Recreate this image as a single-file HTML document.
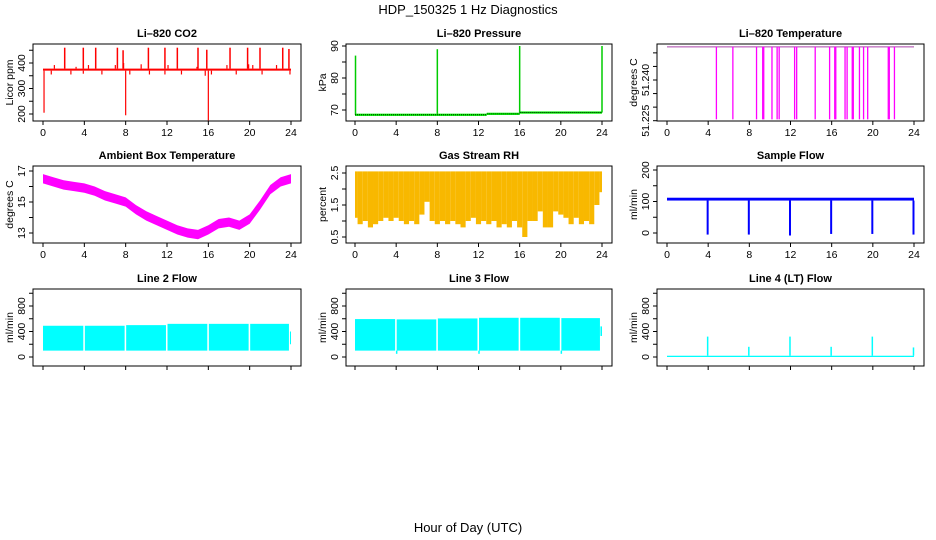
<!DOCTYPE html>
<html><head><meta charset="utf-8"><style>
body{margin:0;background:#fff}
svg{display:block;font-family:"Liberation Sans",Arial,sans-serif}
.t{font-weight:bold;font-size:11px}
.tk{font-size:10.5px}
</style></head><body>
<svg id="c" width="936" height="540" viewBox="0 0 936 540">
<text x="468" y="14" text-anchor="middle" font-size="13">HDP_150325  1 Hz Diagnostics</text>
<text x="468" y="532" text-anchor="middle" font-size="13">Hour of Day (UTC)</text>
</svg>
<script>
const xTicks=[0,4,8,12,16,20,24];
const co2Base=[370,378];
const co2UpT=[2.1,3.9,5.1,7.2,7.75,10.2,11.8,13.0,15.0,15.85,18.1,19.8,21.0,23.2,23.8];
const co2UpV=[460,460,460,460,450,460,460,460,460,452,460,460,460,460,455];
const co2DownT=[0.1,8.0,16.0];
const co2DownV=[205,195,175];
const co2DipT=[0.8,2.7,3.9,5.7,8.4,10.3,11.8,13.4,15.7,16.3,18.7,21.2,23.9];
const co2DipV=[355,355,358,355,355,355,355,355,350,355,355,355,355];
const co2BumpT=[1.1,3.2,4.4,7.0,7.8,9.5,12.1,14.9,17.8,19.9,20.3,22.6];
const co2BumpV=[392,385,392,392,400,395,392,385,392,395,392,392];
const presSegT=[0,12.8,16,24];
const presSegV=[68.5,68.8,69.2];
const presSpikeT=[0.05,8,16,24];
const presSpikeV=[87,89,90,90];
const tempTop=51.2522;
const tempDropT=[4.8,6.4,8.7,9.3,9.4,10.2,10.7,10.9,12.4,12.6,14.4,15.8,16.3,16.4,17.3,17.5,18.0,18.1,18.7,19.1,19.5,21.5,21.6,22.1];
const tempDropV=51.2255;
const ambT=[0,1,2,3,4,5,6,7,8,9,10,11,12,13,14,15,16,17,18,19,20,21,22,23,24];
const ambC=[16.5,16.3,16.1,16.0,15.9,15.7,15.4,15.2,15.0,14.5,14.1,13.8,13.5,13.2,13.0,12.9,13.2,13.6,13.7,13.5,13.9,14.8,15.8,16.3,16.5];
const ambHalf=0.3;
const rhHigh=2.55;
const rhLow=[1.1,0.9,1.0,0.8,0.9,1.0,1.1,1.0,1.1,1.0,0.9,1.0,0.9,1.2,1.6,1.0,0.9,1.0,0.9,1.0,0.9,0.8,1.0,1.1,0.9,1.0,0.9,1.0,0.8,0.9,0.8,1.0,0.8,0.5,1.0,1.0,1.3,0.8,0.8,1.3,1.2,1.1,0.9,1.1,0.9,1.0,0.9,1.5,1.9];
const sfBase=[103,112];
const sfDropT=[4,8,12,16,20,24];
const sfDropV=[-5,-5,-8,-3,-3,-5];
const segStart=[0,4.05,8.05,12.05,16.05,20.05];
const segEnd=[3.9,7.9,11.9,15.9,19.9,23.8];
const l2Top=[490,490,500,520,520,520];
const l2Bot=100;
const l3Top=[595,590,605,615,615,610];
const l3Bot=100;
const l3DipT=[4.05,12.05,20.05];
const l3DipV=50;
const l4Base=[0,20];
const l4T=[4,8,12,16,20,24];
const l4V=[320,160,320,160,320,150];

const svg=document.getElementById('c');
const NS='http://www.w3.org/2000/svg';
function mk(tag,attrs,parent){const e=document.createElementNS(NS,tag);for(const k in attrs)e.setAttribute(k,attrs[k]);(parent||svg).appendChild(e);return e;}
const cols=[{L:33,R:301,x0:43,x24:291},{L:346,R:612,x0:355,x24:602},{L:657,R:924,x0:667,x24:914}];
const rows=[{T:44,B:121},{T:166,B:243},{T:289,B:366}];
function panel(name,title,ylab,c,r,ref,ticks,labels,xlabels){
  const C=cols[c],R=rows[r];
  const g=mk('g',{});
  
  
  const sx=t=>C.x0+(C.x24-C.x0)*t/24;
  const sy=v=>ref[1]+(ref[3]-ref[1])*(v-ref[0])/(ref[2]-ref[0]);
  const tt=mk('text',{x:(C.L+C.R)/2,y:R.T-7,'text-anchor':'middle',class:'t'},g);tt.textContent=title;
  
  
  const yt=mk('text',{transform:`translate(${C.L-20},${(R.T+R.B)/2}) rotate(-90)`,'text-anchor':'middle',class:'tk'},g);yt.textContent=ylab;
  
  
  const ax=mk('g',{stroke:'#000','stroke-width':1},g);
  
  
  mk('line',{x1:C.L,x2:C.L,y1:sy(ticks[0]),y2:sy(ticks[ticks.length-1])},ax);
  ticks.forEach(v=>{mk('line',{x1:C.L-4,x2:C.L,y1:sy(v),y2:sy(v)},ax);});
  labels.forEach(v=>{const s=mk('text',{transform:`translate(${C.L-8},${sy(parseFloat(v))}) rotate(-90)`,'text-anchor':'middle',class:'tk',stroke:'none'},g);s.textContent=v;
    
    });
  mk('line',{x1:sx(0),x2:sx(24),y1:R.B,y2:R.B},ax);
  xTicks.forEach(v=>{mk('line',{x1:sx(v),x2:sx(v),y1:R.B,y2:R.B+4},ax);
    if(xlabels){const s=mk('text',{x:sx(v),y:R.B+15,'text-anchor':'middle',class:'tk',stroke:'none'},g);s.textContent=v;
      
      }});
  const d=mk('g',{},g);
  
  
  const box=mk('rect',{x:C.L,y:R.T,width:C.R-C.L,height:R.B-R.T,fill:'none',stroke:'#000'},g);
  
  
  return {sx,sy,d};
}
function vline(p,t,v1,v2,col,w){mk('line',{x1:p.sx(t),x2:p.sx(t),y1:p.sy(v1),y2:p.sy(v2),stroke:col,'stroke-width':w||1.5},p.d);}
function band(p,t1,t2,v1,v2,fill){const y1=p.sy(v2),y2=p.sy(v1);mk('rect',{x:p.sx(t1),y:y1,width:p.sx(t2)-p.sx(t1),height:Math.max(1,y2-y1),fill},p.d);}

let p=panel('co2','Li\u2013820 CO2','Licor ppm',0,0,[200,114,400,63],[200,250,300,350,400,450],['200','300','400'],true);
band(p,0,24,co2Base[0],co2Base[1],'#ff0000');
co2UpT.forEach((t,i)=>vline(p,t,co2Base[1],co2UpV[i],'#ff0000',1.5));
co2DownT.forEach((t,i)=>vline(p,t,co2Base[0],co2DownV[i],'#ff0000',1.2));
co2DipT.forEach((t,i)=>vline(p,t,co2Base[0],co2DipV[i],'#ff0000',1.2));
co2BumpT.forEach((t,i)=>vline(p,t,co2Base[1],co2BumpV[i],'#ff0000',1.2));

p=panel('pressure','Li\u2013820 Pressure','kPa',1,0,[70,110,90,46],[70,75,80,85,90],['70','80','90'],true);
presSegV.forEach((v,i)=>band(p,presSegT[i],presSegT[i+1],v-0.35,v+0.35,'#00ee00'));
presSpikeT.forEach((t,i)=>vline(p,t,presSegV[Math.min(i,2)],presSpikeV[i],'#00cc00',1.5));
presSegV.forEach((v,i)=>mk('line',{x1:p.sx(presSegT[i]),x2:p.sx(presSegT[i+1]),y1:p.sy(v),y2:p.sy(v),stroke:'#000','stroke-width':0.8,'stroke-dasharray':'1 1'},p.d));

p=panel('li820-temp','Li\u2013820 Temperature','degrees C',2,0,[51.225,120.7,51.24,80],[51.225,51.23,51.235,51.24,51.245,51.25],['51.225','51.240'],true);
mk('line',{x1:p.sx(0),x2:p.sx(24),y1:p.sy(tempTop),y2:p.sy(tempTop),stroke:'#aa44aa','stroke-width':1},p.d);
tempDropT.forEach(t=>vline(p,t,tempTop,tempDropV,'#ff00ff',1.3));

p=panel('ambient-temp','Ambient Box Temperature','degrees C',0,1,[13,233,17,171],[13,14,15,16,17],['13','15','17'],true);
{let pts=ambT.map((t,i)=>p.sx(t)+','+p.sy(ambC[i]+ambHalf));
 let pts2=ambT.map((t,i)=>p.sx(t)+','+p.sy(ambC[i]-ambHalf)).reverse();
 mk('polygon',{points:pts.concat(pts2).join(' '),fill:'#ff00ff'},p.d);}

p=panel('gas-rh','Gas Stream RH','percent',1,1,[0.5,237,2.5,173],[0.5,1,1.5,2,2.5],['0.5','1.5','2.5'],true);
rhLow.forEach((v,i)=>{const t=i*0.5;const t1=Math.max(0,t-0.25),t2=Math.min(24,t+0.25);band(p,t1,t2,v,rhHigh,'#f8b800');});

p=panel('sample-flow','Sample Flow','ml/min',2,1,[0,233,200,170],[0,50,100,150,200],['0','100','200'],true);
band(p,0,24,sfBase[0],sfBase[1],'#0000ff');
sfDropT.forEach((t,i)=>vline(p,t-0.05,sfBase[0],sfDropV[i],'#0000ff',2));

p=panel('line2-flow','Line 2 Flow','ml/min',0,2,[0,357,800,306],[0,200,400,600,800,1000],['0','400','800'],false);
segStart.forEach((s,i)=>band(p,s,segEnd[i],l2Bot,l2Top[i],'#00ffff'));
band(p,23.9,24,200,400,'#00ffff');

p=panel('line3-flow','Line 3 Flow','ml/min',1,2,[0,357,800,306],[0,200,400,600,800,1000],['0','400','800'],false);
segStart.forEach((s,i)=>band(p,s,segEnd[i],l3Bot,l3Top[i],'#00ffff'));
l3DipT.forEach(t=>vline(p,t,l3Bot,l3DipV,'#00ffff',1.5));
band(p,23.85,24,330,480,'#00ffff');

p=panel('line4-flow','Line 4 (LT) Flow','ml/min',2,2,[0,357,800,306],[0,200,400,600,800,1000],['0','400','800'],false);
band(p,0,24,l4Base[0],l4Base[1],'#00ffff');
l4T.forEach((t,i)=>vline(p,t-0.05,l4Base[1],l4V[i],'#00ffff',1.5));
</script>
</body></html>
